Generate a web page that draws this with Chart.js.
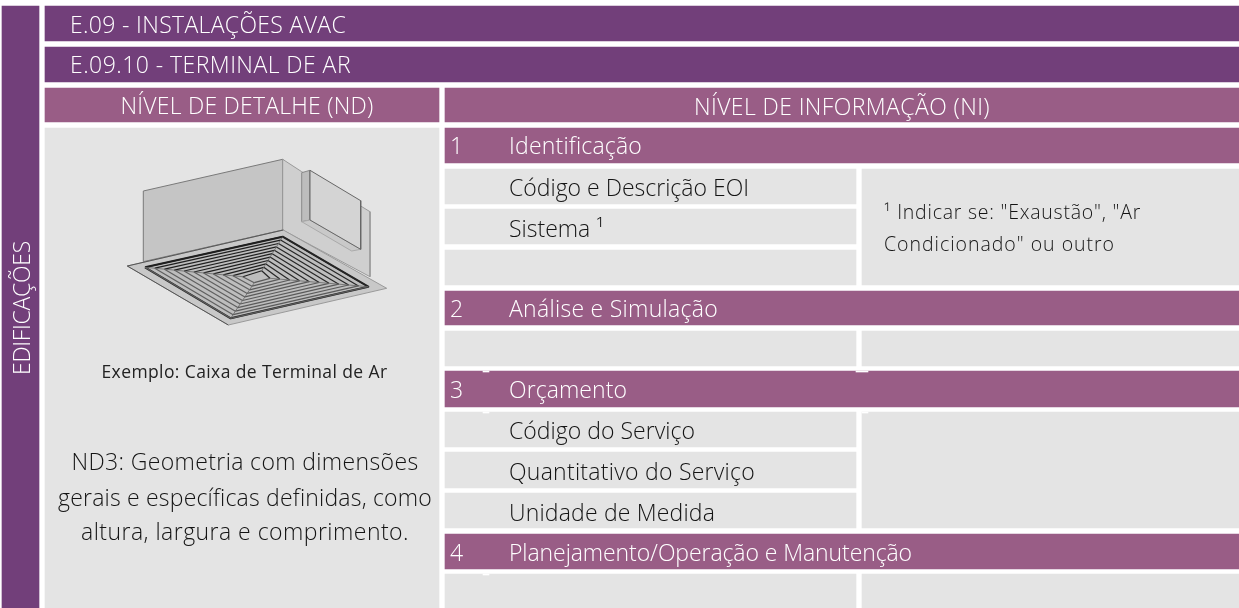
<!DOCTYPE html>
<html lang="pt"><head><meta charset="utf-8">
<style>html,body{margin:0;padding:0;background:#fff;overflow:hidden}canvas{display:block}</style>
<script src="https://cdn.jsdelivr.net/npm/chart.js@4"></script></head>
<body><canvas id="c" width="1239" height="608"></canvas>
<script>
// ---- texts ----
const disciplineLabel = "EDIFICAÇÕES";
const titleLabels = ["E.09 - INSTALAÇÕES AVAC", "E.09.10 - TERMINAL DE AR"];
const columnLabels = ["NÍVEL DE DETALHE (ND)", "NÍVEL DE INFORMAÇÃO (NI)"];
const sectionNumbers = ["1", "2", "3", "4"];
const sectionLabels = ["Identificação", "Análise e Simulação", "Orçamento", "Planejamento/Operação e Manutenção"];
const itemLabels = ["Código e Descrição EOI", "Sistema ¹", "Código do Serviço", "Quantitativo do Serviço", "Unidade de Medida"];
const noteLines = ["¹ Indicar se: \"Exaustão\", \"Ar", "Condicionado\" ou outro"];
const captionLabel = "Exemplo: Caixa de Terminal de Ar";
const detailLines = ["ND3: Geometria com dimensões", "gerais e específicas definidas, como", "altura, largura e comprimento."];

// ---- cell extents, [left, right, top, bottom] on the page-sized axes ----
const darkCells = [[2,39,6,608],[45,1239,6,41],[45,1239,47,82]];
const midCells = [[45,439,88,122],[445,1239,88,122],[445,1239,128,163],[445,1239,291,325],[445,1239,371,407],[445,1239,534,569]];
const greyCells = [[45,439,128,608],[445,856,169,204],[445,856,209,244],[445,856,250,285],[862,1239,169,285],
  [445,856,331,366],[862,1239,331,366],[445,856,412,447],[445,856,452,488],[445,856,493,528],[862,1239,412,528],
  [445,856,574,608],[862,1239,574,608]];
const whiteTicks = [[483,489,371,372],[856,868,371,372],[483,489,412,413],[862,868,412,413],[483,489,574,575]];

// ---- illustration outlines ----
const boxLeftFace = [[143.3,191],[282.7,159.3],[282.7,230],[143.3,261.7]];
const boxRightFace = [[282.7,159.3],[301.7,171.7],[360.7,206],[370,211.7],[370,276.7],[282.7,230]];
const collarLeft = [[301.7,172.7],[310,170.3],[310,220],[301.7,221.7]];
const collarFace = [[310,170.3],[360.7,200.7],[360.7,249.3],[310,220]];
const collarLower = [[301.7,221.7],[310,220],[360.7,249.3],[351.7,251]];
const flange = [[127.3,266],[283.3,230],[386.7,288.3],[228.3,325]];
const grilleRings = [
  [[145,267.3],[282.7,236.7],[368.3,286.7],[230.7,318.3]],
  [[154.8,268.2],[280.6,240.1],[358.5,285.9],[233.1,314.7]],
  [[164.5,269.2],[278.5,243.5],[348.6,285],[235.4,311.2]],
  [[174.3,270.1],[276.4,246.9],[338.8,284.2],[237.8,307.6]],
  [[184.1,271],[274.3,250.3],[329,283.3],[240.1,304]],
  [[193.9,272],[272.2,253.7],[319.2,282.5],[242.5,300.5]],
  [[203.6,272.9],[270.1,257.1],[309.3,281.7],[244.9,296.9]],
  [[213.4,273.9],[268,260.5],[299.5,280.8],[247.2,293.4]],
  [[223.2,274.8],[265.9,263.9],[289.7,280],[249.6,289.8]],
  [[232.9,275.7],[263.8,267.3],[279.8,279.1],[252,286.2]],
  [[242.7,276.7],[261.7,270.7],[270,278.3],[254.3,282.7]]
];
const grilleDiagonals = [[[145,267.3],[242.7,276.7]],[[282.7,236.7],[261.7,270.7]],[[368.3,286.7],[270,278.3]],[[230.7,318.3],[254.3,282.7]]];

const DARK="#723F7A", MID="#995D86", GREY="#E4E4E4", INK="#141414";
const datasets=[];
function addCells(cells,color){cells.forEach(c=>datasets.push({type:'bar',indexAxis:'y',
  data:[{x:[c[0],c[1]],y:(c[2]+c[3])/2}],barThickness:c[3]-c[2],backgroundColor:color,borderWidth:0,grouped:false,parsing:{xAxisKey:'x',yAxisKey:'y'}}));}
function pts(a){return a.map(p=>({x:p[0],y:p[1]}));}
function addShape(a,fill,edge,w){datasets.push({type:'line',data:pts(a.concat([a[0]])),fill:'shape',backgroundColor:fill,
  borderColor:edge,borderWidth:w,pointRadius:0,tension:0,borderJoinStyle:'round'});}
addCells(greyCells,GREY);addCells(darkCells,DARK);addCells(midCells,MID);addCells(whiteTicks,"#fff");
addShape(boxLeftFace,"#c5c5c5","#7a7a7a",1);
addShape(boxRightFace,"#cfcfcf","#9a9a9a",1);
addShape(collarLeft,"#bdbdbd","#8a8a8a",1);
addShape(collarLower,"#c9c9c9","#aaaaaa",1);
addShape(collarFace,"#d4d4d4","#666666",1);
addShape(flange,"#c8c8c8","#9a9a9a",1);
datasets.push({type:'line',data:pts([flange[3],flange[0],flange[1]]),borderColor:"#555",borderWidth:1,pointRadius:0,fill:false});
addShape(grilleRings[0],"#bdbdbd","#222",2);
const faceEdge=["#1f1f1f","#262626","#5a5a5a","#5f5f5f"];
grilleRings.forEach((r,i)=>{
  datasets.push({type:'line',data:pts(r.concat([r[0]])),fill:'shape',backgroundColor:i%2?"#d4d4d4":"#c2c2c2",
    borderColor:"#555",borderWidth:1.2,pointRadius:0,
    segment:{borderColor:ctx=>faceEdge[ctx.p0DataIndex]}});
});
grilleDiagonals.forEach(d=>datasets.push({type:'line',data:pts(d),borderColor:"#666",borderWidth:.8,pointRadius:0,fill:false}));
datasets.forEach((d,i)=>d.order=datasets.length-i);

// label placement: text, x, baseline, size, weight, colour, align, target width
const H=23;
const labels=[
 [titleLabels[0],70,33,H,300,"#fff","left",276],
 [titleLabels[1],70,73,H,300,"#fff","left",281],
 [columnLabels[0],247,114,H,300,"#fff","center",253],
 [columnLabels[1],842,115,H,300,"#fff","center",296],
 [sectionNumbers[0],450,154,H,300,"#fff","left",0],[sectionLabels[0],509,154,H,300,"#fff","left",133],
 [sectionNumbers[1],450,317,H,300,"#fff","left",0],[sectionLabels[1],509,317,H,300,"#fff","left",209],
 [sectionNumbers[2],450,398,H,300,"#fff","left",0],[sectionLabels[2],509,398,H,300,"#fff","left",118],
 [sectionNumbers[3],450,561,H,300,"#fff","left",0],[sectionLabels[3],509,561,H,300,"#fff","left",403],
 [itemLabels[0],509,196,H,300,INK,"left",240],[itemLabels[1],509,237,H,300,INK,"left",95],
 [itemLabels[2],509,439,H,300,INK,"left",186],[itemLabels[3],509,480,H,300,INK,"left",246],[itemLabels[4],509,521,H,300,INK,"left",206],
 [noteLines[0],884,219,19.5,300,INK,"left",257],[noteLines[1],884,251,19.5,300,INK,"left",231],
 [captionLabel,244.5,378,17.5,400,"#222","center",286],
 [detailLines[0],245,470,H,300,INK,"center",347],[detailLines[1],245,506,H,300,INK,"center",374],[detailLines[2],245,540,H,300,INK,"center",328]
];
const textPlugin={id:'texts',afterDatasetsDraw(chart){
  const {ctx,scales:{x,y}}=chart;ctx.save();ctx.textBaseline='alphabetic';
  const put=(t,size,w,col,al,tw,px,py)=>{
    ctx.font=`${w} ${size}px "Open Sans"`;ctx.fillStyle=col;ctx.textAlign=al;ctx.letterSpacing='0px';
    if(tw){const m=ctx.measureText(t).width;ctx.letterSpacing=((tw-m)/t.length).toFixed(3)+'px';}
    ctx.fillText(t,px,py);};
  labels.forEach(l=>put(l[0],l[3],l[4],l[5],l[6],l[7],x.getPixelForValue(l[1]),y.getPixelForValue(l[2])));
  ctx.translate(x.getPixelForValue(30),y.getPixelForValue(308));ctx.rotate(-Math.PI/2);
  put(disciplineLabel,H,300,"#fff","center",134,0,0);
  ctx.restore();
}};
document.fonts.load('300 20px "Open Sans"').finally(()=>{
new Chart(document.getElementById('c'),{type:'bar',data:{datasets},plugins:[textPlugin],options:{
  responsive:false,animation:false,devicePixelRatio:1,layout:{padding:0},
  plugins:{legend:{display:false},tooltip:{enabled:false},title:{display:false}},
  scales:{x:{type:'linear',min:0,max:1239,display:false,offset:false},y:{type:'linear',min:0,max:608,reverse:true,display:false,offset:false}}
}});});
</script></body></html>
